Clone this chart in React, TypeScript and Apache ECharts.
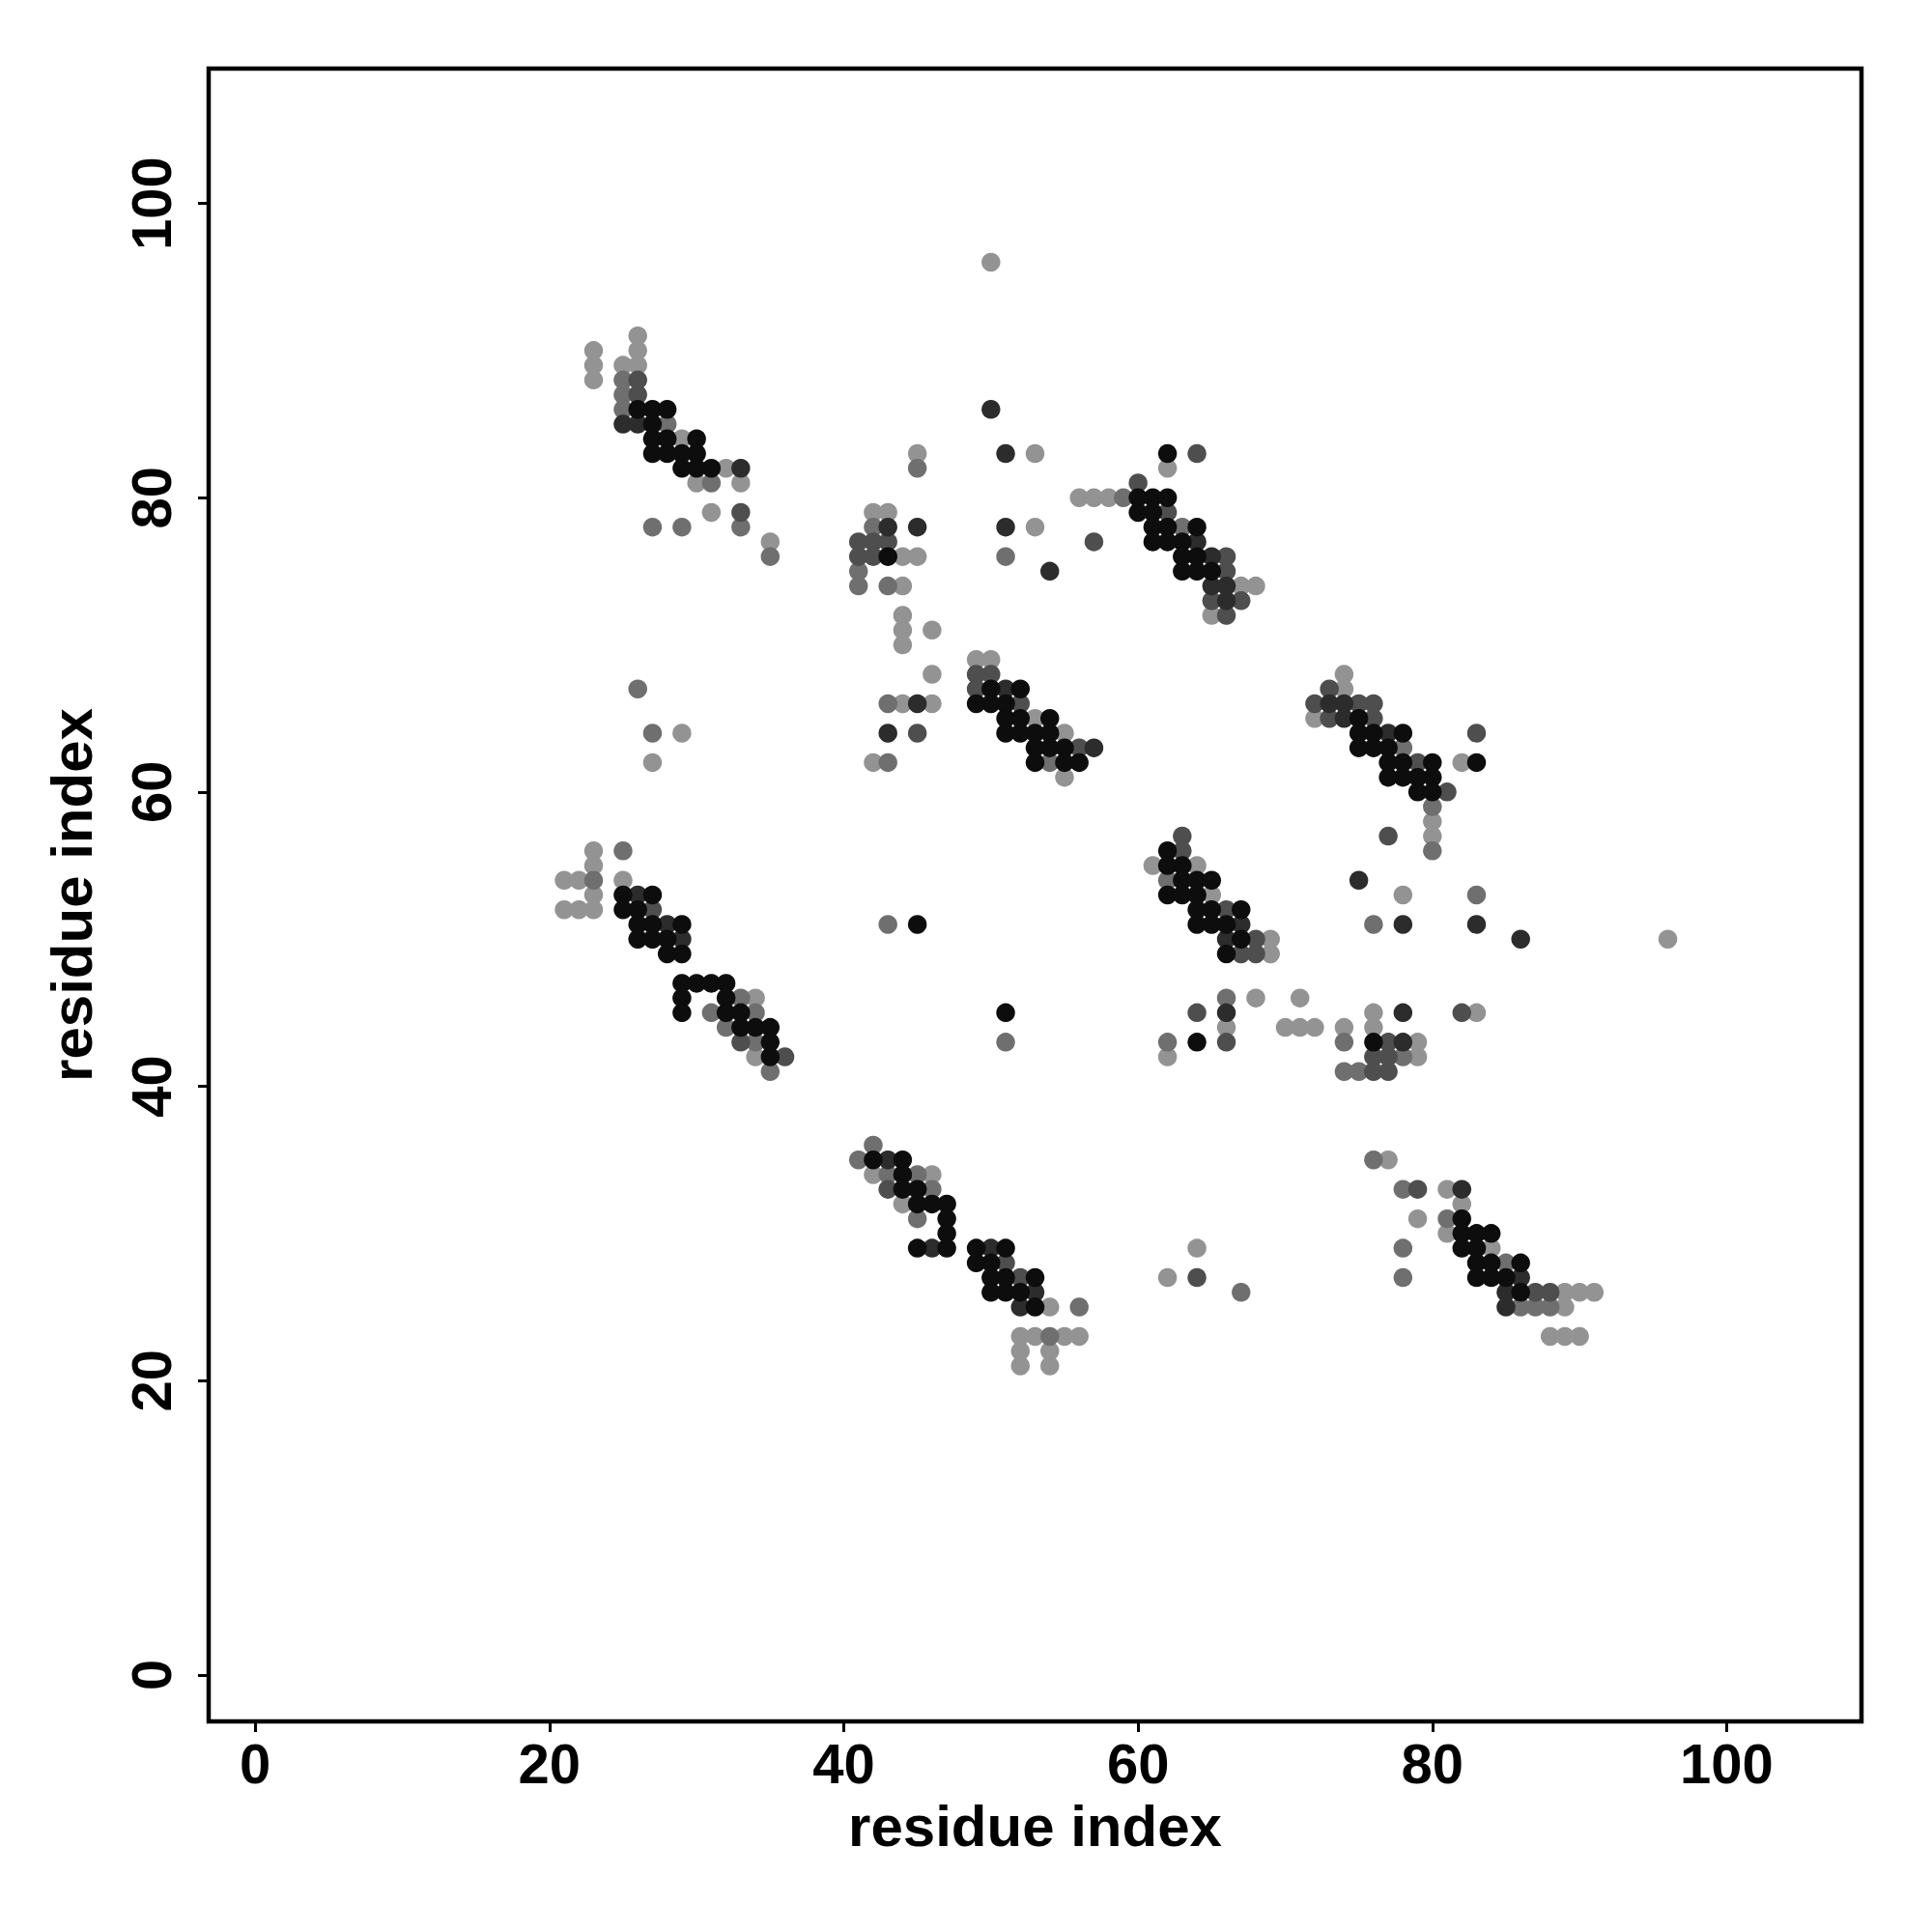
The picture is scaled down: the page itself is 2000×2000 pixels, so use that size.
import React, { useEffect, useRef } from "react";
import * as echarts from "echarts";

// Contact map points grouped by gray level (x = residue index, y = residue index)
const level1: number[][] = [
  [26,86],[27,86],[27,85],[27,84],[27,83],[28,86],[28,84],[28,83],[29,83],[29,82],[30,84],[30,83],[30,82],[31,82],
  [25,53],[27,53],[25,52],[26,52],[26,51],[27,51],[29,51],[26,50],[27,50],[28,50],[28,49],[29,49],[29,47],[30,47],[31,47],[32,47],[29,46],[32,46],[29,45],[32,45],[33,45],[33,44],[34,44],[35,44],[35,43],[35,42],
  [43,76],
  [50,67],[52,67],[49,66],[50,66],[51,66],[51,65],[52,65],[54,65],[51,64],[52,64],[53,64],[54,64],[53,63],[54,63],[55,63],[53,62],[55,62],[56,62],
  [45,51],[51,45],
  [42,35],[44,35],[44,34],[44,33],[45,33],[45,32],[46,32],[47,32],[47,31],[47,30],[45,29],[47,29],[49,29],[51,29],[49,28],[50,28],[50,27],[51,27],[53,27],[50,26],[51,26],[52,26],[53,25],
  [62,83],[60,80],[61,80],[62,80],[60,79],[61,79],[61,78],[62,78],[64,78],[61,77],[62,77],[63,77],[63,76],[64,76],[63,75],[64,75],[65,75],
  [75,65],[75,64],[76,64],[78,64],[75,63],[76,63],[77,63],[77,62],[78,62],[80,62],[83,62],[77,61],[78,61],[79,61],[80,61],[79,60],[80,60],
  [62,56],[62,55],[63,55],[63,54],[64,54],[65,54],[62,53],[63,53],[64,53],[64,52],[65,52],[67,52],[64,51],[65,51],[66,51],[67,50],[66,49],[64,43],
  [76,43],
  [82,31],[82,30],[83,30],[84,30],[82,29],[83,29],[83,28],[84,28],[86,28],[83,27],[84,27],[85,27],[86,26],
];
const level2: number[][] = [
  [25,85],[26,85],[33,82],
  [26,53],[28,51],[29,50],
  [50,86],[51,83],[43,78],[45,78],[51,78],[54,75],[45,66],[43,64],
  [51,67],[57,63],
  [43,35],[46,29],[50,29],[52,25],[53,26],
  [64,77],[65,76],[65,74],[66,74],[66,73],
  [73,66],[74,66],[74,65],[77,64],
  [67,51],[66,50],[66,45],
  [75,54],[78,51],[83,51],[86,50],[78,45],[78,43],
  [82,33],[86,27],[85,26],[85,25],
];
const level3: number[][] = [
  [26,88],[26,87],[33,79],
  [27,52],[33,43],[36,42],
  [41,77],[42,77],[43,77],[41,76],[42,76],[45,64],[57,77],
  [49,68],[50,68],[49,67],[52,66],[56,63],
  [43,33],[51,28],[52,27],
  [64,83],[60,81],[62,79],[66,76],[66,75],[65,73],[67,73],[66,72],
  [73,67],[72,66],[75,66],[76,66],[73,65],[76,65],[83,64],[79,62],[81,60],[77,57],
  [63,57],[63,56],[66,52],[68,50],[67,49],[68,49],[64,45],[66,43],
  [82,45],[77,43],[76,42],[77,42],[76,41],[77,41],
  [79,33],[87,26],[88,26],[64,27],
];
const level4: number[][] = [
  [25,88],[25,87],[25,86],[27,78],[28,85],[29,78],[31,81],[33,78],[35,76],
  [26,67],[27,64],[25,56],[23,54],[33,46],[31,45],[34,45],[32,44],[34,43],[35,41],
  [45,82],[42,78],[51,76],[41,75],[41,74],[43,74],[43,66],[43,62],
  [54,62],
  [43,51],[51,43],
  [42,36],[41,35],[43,34],[45,34],[46,33],[45,31],[56,25],[54,23],
  [59,80],[63,78],
  [78,63],[80,59],[80,56],
  [62,54],[66,46],[62,43],
  [83,53],[76,51],[74,43],[78,42],[74,41],[75,41],
  [76,35],[78,33],[81,31],[78,29],[85,28],[78,27],[86,25],[87,25],[88,25],[67,26],
];
const level5: number[][] = [
  [23,90],[23,89],[23,88],[25,89],[26,91],[26,90],[26,89],[29,84],[30,81],[31,79],[32,82],[33,81],[35,77],
  [29,64],[27,62],[23,56],[23,55],[21,54],[22,54],[25,54],[23,53],[21,52],[22,52],[23,52],[34,46],[34,42],
  [50,96],[45,83],[53,83],[42,79],[43,79],[53,78],[44,76],[45,76],[44,74],[44,72],[44,71],[46,71],[44,70],[46,68],[44,66],[46,66],[42,62],
  [49,69],[50,69],[53,65],[55,64],[55,61],
  [42,34],[46,34],[44,32],[54,25],[52,23],[53,23],[55,23],[56,23],[52,22],[54,22],[52,21],[54,21],
  [62,82],[56,80],[57,80],[58,80],[67,74],[68,74],[65,72],
  [74,68],[74,67],[72,65],[82,62],[80,58],[80,57],
  [61,55],[64,55],[65,53],[69,50],[69,49],[68,46],[71,46],[66,44],[70,44],[71,44],[72,44],[62,42],
  [78,53],[76,45],[83,45],[74,44],[76,44],[79,43],[79,42],[96,50],
  [77,35],[81,33],[82,32],[79,31],[81,30],[84,29],[89,26],[90,26],[91,26],[89,25],[88,23],[89,23],[90,23],[64,29],[62,27],
];
const levelColors = ["#0d0d0d", "#2c2c2c", "#4e4e4e", "#6f6f6f", "#939393"];
const tickValues = [0, 20, 40, 60, 80, 100];
const axisTitle = "residue index";

export default function App() {
  const ref = useRef<HTMLDivElement>(null);
  useEffect(() => {
    if (!ref.current) return;
    const chart = echarts.init(ref.current, null, { renderer: "svg" });
    const font = { fontFamily: "Liberation Sans", fontWeight: "bold" as const, fontSize: 58, color: "#000" };
    const axisCommon = (isY: boolean) => ({
      type: "value" as const,
      min: -3.16,
      max: 109.16,
      axisLine: { show: false, onZero: false },
      splitLine: { show: false },
      axisTick: { show: true, length: 11, lineStyle: { color: "#000", width: 3 }, customValues: tickValues },
      axisLabel: { ...font, customValues: tickValues, margin: isY ? 31 : 14, rotate: isY ? 90 : 0 },
      name: axisTitle,
      nameLocation: "middle" as const,
      nameTextStyle: { ...font, fontSize: 60 },
      nameGap: isY ? 112 : 78,
      nameRotate: isY ? 90 : 0,
    });
    const levels = [level5, level4, level3, level2, level1];
    const colors = [levelColors[4], levelColors[3], levelColors[2], levelColors[1], levelColors[0]];
    chart.setOption({
      animation: false,
      backgroundColor: "#fff",
      grid: { left: 216, top: 71, width: 1711, height: 1711, show: true, borderColor: "#000", borderWidth: 4.5, backgroundColor: "transparent" },
      xAxis: axisCommon(false),
      yAxis: axisCommon(true),
      series: levels.map((d, i) => ({
        type: "scatter",
        data: d,
        symbol: "circle",
        symbolSize: 19.5,
        itemStyle: { color: colors[i], opacity: 1 },
        silent: true,
      })),
    });
    return () => chart.dispose();
  }, []);
  return <div ref={ref} style={{ position: "absolute", left: 0, top: 0, width: 2000, height: 2000 }} />;
}
